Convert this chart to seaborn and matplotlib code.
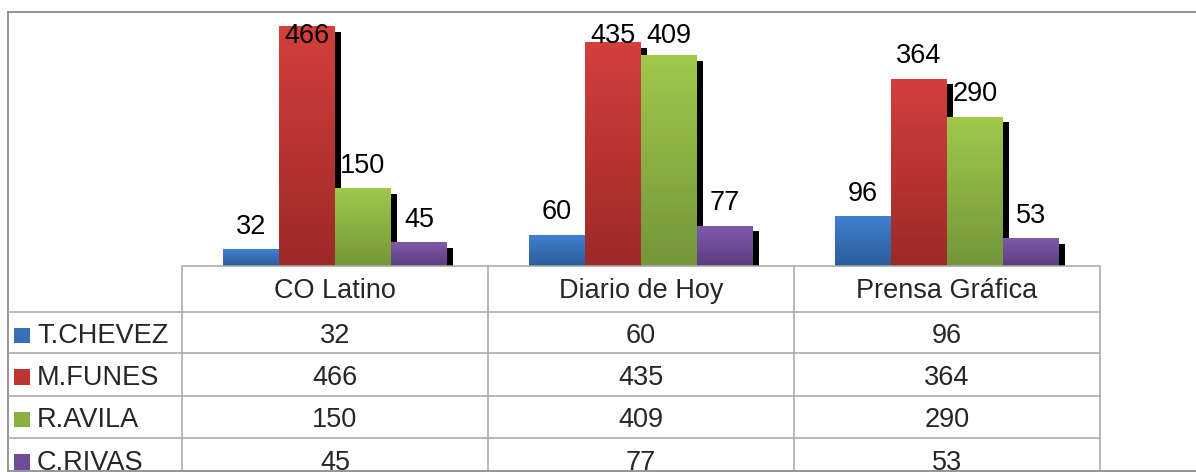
import numpy as np
import pandas as pd
import matplotlib
matplotlib.use("Agg")
import matplotlib.pyplot as plt
import matplotlib.patheffects as pe
from matplotlib.colors import LinearSegmentedColormap
from matplotlib.patches import Rectangle
import seaborn as sns


# Data
diarios = ["CO Latino", "Diario de Hoy", "Prensa Gráfica"]
candidatos = ["T.CHEVEZ", "M.FUNES", "R.AVILA", "C.RIVAS"]
t_chevez = [32, 60, 96]
m_funes = [466, 435, 364]
r_avila = [150, 409, 290]
c_rivas = [45, 77, 53]

series = [t_chevez, m_funes, r_avila, c_rivas]

# colours (top / bottom of gradient)
col_top = ["#3f80d0", "#d33f3c", "#a0c84b", "#8059ab"]
col_bot = ["#2c5d99", "#9c2a28", "#74963a", "#5b3e7e"]
col_mid = ["#3670b8", "#bb3532", "#8bb042", "#6e4c96"]

W, H = 1196, 472

df = pd.DataFrame({
    "diario": np.tile(diarios, len(candidatos)),
    "candidato": np.repeat(candidatos, len(diarios)),
    "votos": np.concatenate(series),
})

sns.set_theme(style="white")
plt.rcParams["font.family"] = ["Liberation Sans", "DejaVu Sans"]
FS = 19.5

fig = plt.figure(figsize=(W / 100, H / 100), dpi=100)


def fig_rect(x0, y0, x1, y1):
    # pixel box (top-left origin) -> figure fraction
    return [x0 / W, 1 - y1 / H, (x1 - x0) / W, (y1 - y0) / H]


# Bars
ax = fig.add_axes(fig_rect(182, 14, 1100, 266))
sns.barplot(
    data=df, x="diario", y="votos", hue="candidato",
    order=diarios, hue_order=candidatos,
    palette=col_mid, saturation=1, width=0.732,
    linewidth=0, legend=False, ax=ax
)

px_per_unit = 0.5135
ymax = (266 - 14) / px_per_unit

shadow = [pe.SimplePatchShadow(offset=(4.3, -3.6), shadow_rgbFace="black", alpha=1.0),
          pe.Normal()]

grad = np.linspace(0, 1, 64).reshape(-1, 1)
for i, cont in enumerate(ax.containers):
    cmap = LinearSegmentedColormap.from_list(f"g{i}", [col_bot[i], col_top[i]])
    for bar, v in zip(cont, series[i]):
        bar.set_path_effects(shadow)
        x0, w, h = bar.get_x(), bar.get_width(), bar.get_height()
        ax.imshow(grad, extent=[x0, x0 + w, 0, h], origin="lower",
                  aspect="auto", cmap=cmap, zorder=3, interpolation="bilinear")
        # label above the bar, kept inside the plot area
        ly = min(v + 16 / px_per_unit, (266 - 43) / px_per_unit)
        ax.text(x0 + w / 2, ly, str(v), ha="center", va="baseline",
                fontsize=FS, color="black", zorder=5)

ax.set_xlim(-0.5, 2.5)
ax.set_ylim(0, ymax)
ax.set_xlabel("")
ax.set_ylabel("")
ax.set_xticks([])
ax.set_yticks([])
sns.despine(ax=ax, left=True, bottom=True)

# Data table
tab = fig.add_axes(fig_rect(0, 0, W, 470))
tab.set_xlim(0, W)
tab.set_ylim(470, 0)
tab.axis("off")

grid_c = "#a6a6a6"
col_x = [182, 488, 794, 1100]
row_y = [266, 311.7, 353, 395.7, 438]

for x in col_x:
    tab.plot([x, x], [266, 470], color=grid_c, lw=1.1, solid_capstyle="butt")
tab.plot([182, 1100], [266, 266], color=grid_c, lw=1.1)
for y in row_y[1:]:
    tab.plot([8, 1100], [y, y], color=grid_c, lw=1.1)

for j, d in enumerate(diarios):
    cx = (col_x[j] + col_x[j + 1]) / 2
    tab.text(cx, 298, d, ha="center", va="baseline", fontsize=FS)

for i, name in enumerate(candidatos):
    base = row_y[i + 1] + 31.6
    tab.add_patch(Rectangle((14, base - 15.5), 15.5, 15.5, color=col_mid[i], lw=0))
    tab.text(37, base, name, ha="left", va="baseline", fontsize=FS, clip_on=True)
    for j, v in enumerate(series[i]):
        cx = (col_x[j] + col_x[j + 1]) / 2
        tab.text(cx, base, str(v), ha="center", va="baseline", fontsize=FS, clip_on=True)

# Outer frame
frame = fig.add_axes([0, 0, 1, 1], zorder=-1)
frame.set_xlim(0, W)
frame.set_ylim(H, 0)
frame.axis("off")
frame_c = "#8c8c8c"
frame.plot([8, W], [12.3, 12.3], color=frame_c, lw=1.3)
frame.plot([8, 8], [12.3, 470.5], color=frame_c, lw=1.3)
frame.plot([8, W], [470.5, 470.5], color=frame_c, lw=1.3)

fig.savefig("out.png", dpi=100)
plt.close(fig)
